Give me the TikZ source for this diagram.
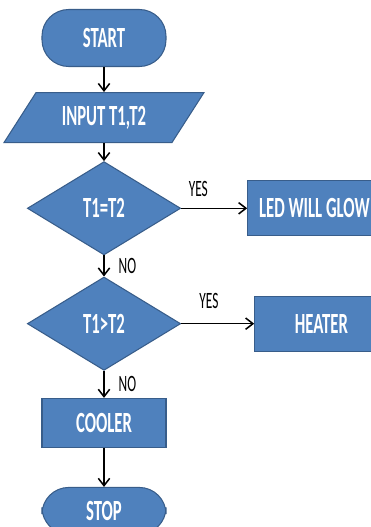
\documentclass[tikz,border=0pt]{standalone}
\usepackage{fontspec}
\setmainfont{Carlito}[FakeStretch=0.57]
\usetikzlibrary{positioning,arrows.meta,shapes.geometric}
\definecolor{boxblue}{HTML}{4F81BD}
\definecolor{boxline}{HTML}{385D8A}

\begin{document}
\begin{tikzpicture}[
  font=\fontsize{25}{29}\selectfont\bfseries,
  term/.style={draw=boxline, line width=0.9pt, fill=boxblue, text=white,
               rounded corners=0.8cm, minimum width=3.72cm, minimum height=1.71cm},
  inbox/.style={draw=boxline, line width=0.9pt, fill=boxblue, text=white,
                trapezium, trapezium left angle=55, trapezium right angle=125,
                trapezium stretches=true, minimum width=6cm, minimum height=1.5cm},
  dec/.style={draw=boxline, line width=0.9pt, fill=boxblue, text=white,
              diamond, inner sep=0pt, minimum width=4.6cm, minimum height=2.8cm},
  proc/.style={draw=boxline, line width=0.9pt, fill=boxblue, text=white,
               minimum width=3.72cm, minimum height=1.47cm},
  outbox/.style={proc, minimum width=4cm, minimum height=1.65cm},
  lbl/.style={font=\fontsize{20}{24}\selectfont\mdseries, text=black},
  fl/.style={-{Straight Barb[length=2.2mm, width=3.4mm]}, line width=1.3pt}
]
\useasboundingbox (-3.12,1.14) rectangle (7.98,-14.67);

\node[term] (start) at (0,0) {START};
\node[inbox, below=0.75cm of start] (input) {INPUT T1,T2};
\node[dec, below=0.54cm of input] (d1) {T1=T2};
\node[dec, below=0.63cm of d1] (d2) {T1>T2};
\node[proc, below=0.81cm of d2] (cooler) {COOLER};
\node[term, below=1.17cm of cooler, minimum height=1.4cm] (stop) {STOP};
\node[outbox, right=1.98cm of d1] (led) {LED WILL GLOW};
\node[outbox, right=2.19cm of d2] (heater) {HEATER};

\foreach \a/\b in {start/input, input/d1, cooler/stop}
  \draw[fl] (\a) -- (\b);
\draw[fl] (d1) -- node[lbl, right=0.3cm] {NO} (d2);
\draw[fl] (d2) -- node[lbl, right=0.3cm] {NO} (cooler);
\draw[fl] (d1) -- node[lbl, above=0.2cm, pos=0.26] {YES} (led);
\draw[fl] (d2) -- node[lbl, above=0.3cm, pos=0.38] {YES} (heater);
\end{tikzpicture}
\end{document}
